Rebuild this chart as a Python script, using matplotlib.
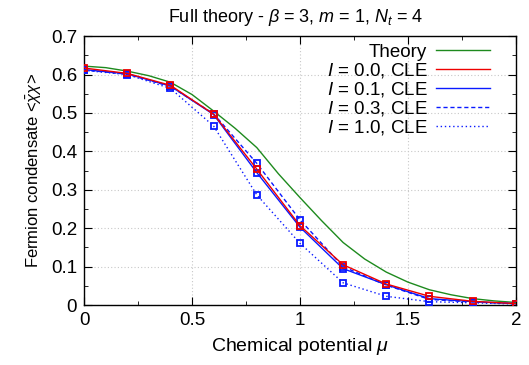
import matplotlib
matplotlib.use('Agg')
import matplotlib.pyplot as plt
from matplotlib.lines import Line2D
from matplotlib.ticker import MultipleLocator, FuncFormatter

plt.rcParams['font.family'] = ['Liberation Sans', 'DejaVu Sans']
plt.rcParams['mathtext.fontset'] = 'custom'
plt.rcParams['mathtext.rm'] = 'Liberation Sans'
plt.rcParams['mathtext.it'] = 'Liberation Sans:italic'

# theory curve
mu_theory = [0.0, 0.1, 0.2, 0.3, 0.4, 0.5, 0.6, 0.7, 0.8, 0.9, 1.0,
             1.1, 1.2, 1.3, 1.4, 1.5, 1.6, 1.7, 1.8, 1.9, 2.0]
cond_theory = [0.622, 0.618, 0.609, 0.597, 0.580, 0.548, 0.505, 0.460, 0.410, 0.342, 0.280,
               0.220, 0.163, 0.120, 0.086, 0.060, 0.040, 0.027, 0.017, 0.011, 0.007]

# CLE simulations
mu_cle = [0.0, 0.2, 0.4, 0.6, 0.8, 1.0, 1.2, 1.4, 1.6, 1.8, 2.0]
cond_i00 = [0.617, 0.603, 0.572, 0.497, 0.354, 0.207, 0.105, 0.055, 0.023, 0.010, 0.004]
cond_i01 = [0.613, 0.602, 0.570, 0.496, 0.345, 0.203, 0.095, 0.053, 0.017, 0.009, 0.004]
cond_i03 = [0.612, 0.601, 0.569, 0.498, 0.369, 0.222, 0.100, 0.052, 0.015, 0.008, 0.004]
cond_i10 = [0.611, 0.600, 0.564, 0.466, 0.287, 0.161, 0.058, 0.023, 0.009, 0.006, 0.003]

green = '#1e8a1e'
red = '#ee0000'
blue = '#0a1aff'

fig = plt.figure(figsize=(5.29, 3.65), dpi=100)
ax = fig.add_axes([0.159, 0.164, 0.816, 0.737])

ax.plot(mu_theory, cond_theory, color=green, lw=1.0, zorder=3)
mk = dict(marker='s', ms=5, mfc='none', mew=1.3)
ax.plot(mu_cle, cond_i10, color=blue, lw=1.0, ls=(0, (1, 2)), **mk, zorder=4)
ax.plot(mu_cle, cond_i03, color=blue, lw=1.0, ls=(0, (3, 2)), **mk, zorder=4)
ax.plot(mu_cle, cond_i01, color=blue, lw=1.0, **mk, zorder=5)
ax.plot(mu_cle, cond_i00, color=red, lw=1.0, **mk, zorder=5)

ax.set_xlim(0, 2)
ax.set_ylim(0, 0.7)
ax.xaxis.set_major_locator(MultipleLocator(0.5))
ax.xaxis.set_minor_locator(MultipleLocator(0.25))
ax.yaxis.set_major_locator(MultipleLocator(0.1))
ax.yaxis.set_minor_locator(MultipleLocator(0.05))
ax.xaxis.set_major_formatter(FuncFormatter(lambda v, p: f'{v:g}'))
ax.yaxis.set_major_formatter(FuncFormatter(lambda v, p: f'{v:g}'))
ax.tick_params(which='both', direction='in', top=True, right=True, labelsize=13.5)
ax.tick_params(which='major', length=6)
ax.tick_params(which='minor', length=3)
ax.tick_params(axis='x', pad=5)
ax.tick_params(axis='y', pad=5)
ax.grid(True, which='major', color='#c8c8c8', ls=(0, (1, 2)), lw=0.8)
for s in ax.spines.values():
    s.set_linewidth(1.0)

ax.set_title(r'Full theory - $\beta$ = 3, $m$ = 1, $N_t$ = 4', fontsize=13, pad=10, x=0.49)
ax.set_xlabel(r'Chemical potential $\mu$', fontsize=14, labelpad=5)
ax.set_ylabel(r'Fermion condensate <$\bar{\chi}\chi$>', fontsize=12, labelpad=5)

handles = [
    Line2D([], [], color=green, lw=1.0),
    Line2D([], [], color=red, lw=1.0),
    Line2D([], [], color=blue, lw=1.0),
    Line2D([], [], color=blue, lw=1.0, ls=(0, (3, 2))),
    Line2D([], [], color=blue, lw=1.0, ls=(0, (1, 2))),
]
labels = ['Theory', r'$I$ = 0.0, CLE', r'$I$ = 0.1, CLE', r'$I$ = 0.3, CLE', r'$I$ = 1.0, CLE']
leg = ax.legend(handles, labels, loc='upper right', markerfirst=False, frameon=False,
                handlelength=2.9, handletextpad=0.45, labelspacing=0.0,
                fontsize=13.5, borderaxespad=0.0, bbox_to_anchor=(0.958, 1.0))
for t in leg.get_texts():
    t.set_ha('right')

fig.savefig('out.png', dpi=100)
